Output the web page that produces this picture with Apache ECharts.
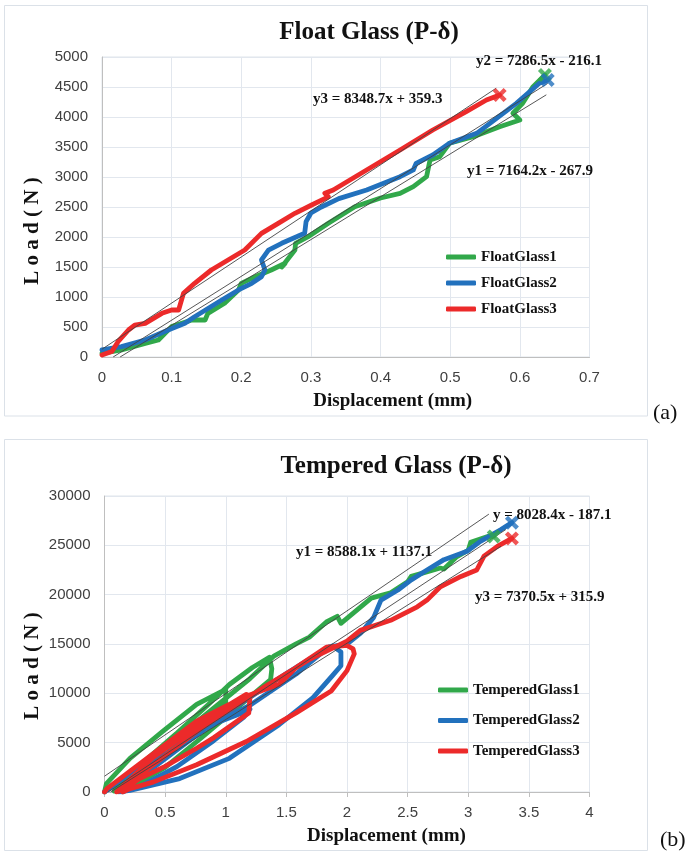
<!DOCTYPE html>
<html><head><meta charset="utf-8">
<script src="https://cdn.jsdelivr.net/npm/echarts@6/dist/echarts.min.js"></script>
<style>html,body{margin:0;padding:0;background:#fff}#c{width:691px;height:857px}</style>
</head><body><div id="c"></div>
<script>
// ---------- Float glass (a) ----------
const floatNames = ['FloatGlass1','FloatGlass2','FloatGlass3'];
const fg1X = [0,0.028,0.062,0.081,0.1,0.129,0.148,0.152,0.176,0.196,0.2,0.22,0.243,0.263,0.258,0.277,0.278,0.296,0.325,0.363,0.4,0.428,0.447,0.466,0.471,0.485,0.499,0.533,0.571,0.6,0.59,0.604,0.619,0.636];
const fg1Y = [62,117,228,283,506,617,617,728,895,1117,1228,1339,1450,1562,1500,1783,1895,2005,2228,2505,2650,2728,2840,3005,3283,3339,3562,3672,3839,3950,4062,4228,4506,4700];
const fg2X = [0,0.028,0.062,0.095,0.119,0.133,0.172,0.196,0.215,0.229,0.234,0.229,0.239,0.258,0.291,0.293,0.3,0.315,0.34,0.38,0.428,0.447,0.451,0.475,0.499,0.538,0.557,0.595,0.628,0.64];
const fg2Y = [117,172,283,450,561,672,950,1117,1228,1339,1450,1617,1783,1895,2062,2255,2400,2500,2640,2783,3005,3117,3228,3367,3562,3728,3895,4228,4562,4617];
const fg3X = [0,0.014,0.023,0.038,0.047,0.062,0.086,0.1,0.11,0.117,0.133,0.157,0.181,0.205,0.229,0.253,0.277,0.301,0.325,0.32,0.332,0.38,0.428,0.475,0.523,0.552,0.571];
const fg3Y = [33,90,255,450,533,560,728,783,783,1060,1228,1450,1617,1783,2060,2228,2395,2533,2670,2728,2783,3117,3450,3783,4089,4283,4367];
const fEndX = [0.636,0.64,0.571];
const fEndY = [4700,4617,4367];
const fTrendX = [[0.026,0.638],[0.016,0.64],[0,0.566]];
const fTrendY = [[0,4370],[0,4560],[130,4480]];
const fEqText = ['y1 = 7164.2x - 267.9','y2 = 7286.5x - 216.1','y3 = 8348.7x + 359.3'];
const fXTicks = {min:0,max:0.7,interval:0.1};
const fYTicks = {min:0,max:5000,interval:500};

// ---------- Tempered glass (b) ----------
const tempNames = ['TemperedGlass1','TemperedGlass2','TemperedGlass3'];
const tg1X = [0,0.016,0.21,0.48,0.76,1.0,1.0,0.8,0.5,0.25,0.08,0.3,0.6,0.85,1.03,1.22,1.36,1.38,1.37,1.1,0.8,0.5,0.2,0.5,0.9,1.2,1.4,1.58,1.69,1.83,1.92,1.95,2.2,2.36,2.5,2.53,2.77,2.8,2.9,3.0,3.02,3.16,3.21];
const tg1Y = [0,850,3400,6140,8870,10400,9000,6800,3800,1200,100,2800,6000,8800,10900,12620,13650,12500,11400,8600,5500,2500,300,4500,8500,11500,13800,15020,15700,17230,17800,17100,19650,20200,21300,21850,22700,22600,23800,24500,25300,25900,25900];
const tg2X = [0,0.02,0.2,0.48,0.89,1.17,1.2,1.15,0.9,0.6,0.3,0.15,0.4,0.8,1.2,1.58,1.83,1.88,1.95,1.95,1.88,1.72,1.44,1.03,0.62,0.21,0.12,0.3,0.7,1.1,1.5,1.85,2.0,2.11,2.22,2.28,2.42,2.53,2.66,2.8,2.99,3.1,3.27,3.36];
const tg2Y = [0,170,1800,4430,6830,8190,8400,7600,5200,2600,600,0,3000,6200,8800,11950,14500,14800,14200,12800,11800,9560,6820,3410,1360,170,0,1500,5200,8800,12000,14700,15000,16070,17700,19450,20470,21500,22500,23550,24400,25400,26600,27300];
const tg3X = [0,0.02,0.35,0.76,1.03,1.17,1.2,1.19,0.9,0.76,0.5,0.29,0.15,0.1,0.4,0.8,1.17,1.44,1.58,1.83,2.0,2.05,2.06,2.0,1.87,1.58,1.17,0.76,0.4,0.21,0.15,0.3,0.8,1.3,1.7,2.0,2.11,2.36,2.58,2.66,2.77,2.94,3.07,3.13,3.24,3.36];
const tg3Y = [0,340,3410,7170,8870,9900,9700,8000,5500,4430,2600,1360,200,0,3500,7000,9700,10920,12620,14670,14850,14500,14000,12300,10240,8020,5120,2760,1000,340,0,1800,6500,10500,13500,15300,16380,17400,18770,19450,20800,21850,22500,23900,24900,25700];
const tEndX = [3.21,3.36,3.36];
const tEndY = [25900,27300,25700];
const tTrendX = [[0,3.17],[0.03,3.31],[0.05,3.27]];
const tTrendY = [[1600,28160],[0,26600],[0,24900]];
const tEqText = ['y1 = 8588.1x + 1137.1','y = 8028.4x - 187.1','y3 = 7370.5x + 315.9'];
const tXTicks = {min:0,max:4,interval:0.5};
const tYTicks = {min:0,max:30000,interval:5000};

const COLORS = ['#31a84a','#2271bd','#ec2a2a'];
const zip = (xs, ys) => xs.map((x, i) => [x, ys[i]]);
const SERIF = '"Liberation Serif", "Times New Roman", serif';
const XMARK = 'path://M0,2.2 L2.2,0 L5,2.8 L7.8,0 L10,2.2 L7.2,5 L10,7.8 L7.8,10 L5,7.2 L2.2,10 L0,7.8 L2.8,5 Z';

const chart = echarts.init(document.getElementById('c'));

function axisX(idx, t, padLeft, showTick) {
  return {
    type:'value', gridIndex: idx, min:t.min, max:t.max, interval:t.interval,
    name:'Displacement (mm)', nameLocation:'middle', nameGap:35,
    nameTextStyle:{fontFamily:SERIF, fontWeight:'bold', fontSize:19, color:'#111', padding:[0,0,0,padLeft]},
    axisLine:{show:true, lineStyle:{color:'#bfbfbf', width:1}},
    axisTick:{show:showTick, length:5, lineStyle:{color:'#bfbfbf'}},
    axisLabel:{fontFamily:'"Liberation Sans", Arial, sans-serif', fontSize:15, color:'#404040', margin:13,
      formatter: v => String(Math.round(v * 10) / 10)},
    splitLine:{show:true, lineStyle:{color:'#e2e7ee', width:1}}
  };
}
function axisY(idx, t) {
  return {
    type:'value', gridIndex: idx, min:t.min, max:t.max, interval:t.interval,
    axisLine:{show:true, lineStyle:{color:'#bfbfbf', width:1}},
    axisTick:{show:false},
    axisLabel:{fontFamily:'"Liberation Sans", Arial, sans-serif', fontSize:15, color:'#404040', margin:14,
      formatter: v => String(v)},
    splitLine:{show:true, lineStyle:{color:'#e2e7ee', width:1}}
  };
}
function curve(name, xs, ys, color, gi) {
  return {
    name, type:'line', xAxisIndex:gi, yAxisIndex:gi, data: zip(xs, ys),
    showSymbol:false, smooth:false, animation:false, z:2,
    color, lineStyle:{color, width:4.8, cap:'round', join:'round'}
  };
}
function trend(xs, ys, gi) {
  return {
    type:'line', xAxisIndex:gi, yAxisIndex:gi, data: zip(xs, ys), showSymbol:false,
    animation:false, silent:true, z:3, lineStyle:{color:'#444', width:0.9}
  };
}
function ends(xs, ys, gi) {
  return {
    type:'scatter', xAxisIndex:gi, yAxisIndex:gi, symbol:XMARK, symbolSize:14, z:4, animation:false, silent:true,
    data: xs.map((x, i) => ({value:[x, ys[i]], itemStyle:{color:COLORS[i]}}))
  };
}
function txt(text, x, y, size, weight, align, rot) {
  const st = {text, fill:'#111', font: weight + ' ' + size + 'px ' + SERIF,
    align: align, verticalAlign:'middle', textAlign: align, textVerticalAlign:'middle'};
  const el = {type:'text', x, y, style: st, silent:true, z:10};
  if (rot) el.rotation = rot;
  return el;
}

const series = [
  curve(floatNames[0], fg1X, fg1Y, COLORS[0], 0),
  curve(floatNames[1], fg2X, fg2Y, COLORS[1], 0),
  curve(floatNames[2], fg3X, fg3Y, COLORS[2], 0),
  trend(fTrendX[0], fTrendY[0], 0), trend(fTrendX[1], fTrendY[1], 0), trend(fTrendX[2], fTrendY[2], 0),
  ends(fEndX, fEndY, 0),
  curve(tempNames[0], tg1X, tg1Y, COLORS[0], 1),
  curve(tempNames[1], tg2X, tg2Y, COLORS[1], 1),
  curve(tempNames[2], tg3X, tg3Y, COLORS[2], 1),
  trend(tTrendX[0], tTrendY[0], 1), trend(tTrendX[1], tTrendY[1], 1), trend(tTrendX[2], tTrendY[2], 1),
  ends(tEndX, tEndY, 1)
];

const legendText = {fontFamily:SERIF, fontWeight:'bold', fontSize:15, color:'#111', lineHeight:16};

chart.setOption({
  animation:false,
  backgroundColor:'#fff',
  grid:[
    {left:102, top:57, width:487.5, height:300, show:true, borderColor:'#dfe4eb', borderWidth:1},
    {left:104.5, top:496, width:485, height:296, show:true, borderColor:'#dfe4eb', borderWidth:1}
  ],
  xAxis:[axisX(0, fXTicks, 94, false), axisX(1, tXTicks, 79, true)],
  yAxis:[axisY(0, fYTicks), axisY(1, tYTicks)],
  legend:[
    {data:floatNames, orient:'vertical', left:441, top:244, icon:'roundRect', itemWidth:30, itemHeight:5, itemGap:10, textStyle:legendText, selectedMode:false},
    {data:tempNames, orient:'vertical', left:433, top:677, icon:'roundRect', itemWidth:30, itemHeight:5, itemGap:14.5, textStyle:legendText, selectedMode:false}
  ],
  graphic:[
    {type:'rect', shape:{x:4.5, y:5.5, width:643, height:410.5}, style:{fill:null, stroke:'#dbe1e8', lineWidth:1}, silent:true, z:0},
    {type:'rect', shape:{x:4.5, y:439.5, width:643, height:411}, style:{fill:null, stroke:'#dbe1e8', lineWidth:1}, silent:true, z:0},
    txt('Float Glass (P-δ)', 369, 33, 25, 'bold', 'center'),
    txt('Tempered Glass (P-δ)', 396, 467, 25, 'bold', 'center'),
    txt('L o a d ( N )', 33, 231, 21, 'bold', 'center', Math.PI/2),
    txt('L o a d ( N )', 33, 666, 21, 'bold', 'center', Math.PI/2),
    txt('(a)', 653, 413, 22, 'normal', 'left'),
    txt('(b)', 660, 840, 22, 'normal', 'left'),
    txt(fEqText[1], 476, 61, 15, 'bold', 'left'),
    txt(fEqText[2], 313, 99, 15, 'bold', 'left'),
    txt(fEqText[0], 467, 171, 15, 'bold', 'left'),
    txt(tEqText[1], 493, 515, 15, 'bold', 'left'),
    txt(tEqText[0], 296, 552, 15, 'bold', 'left'),
    txt(tEqText[2], 475, 597, 15, 'bold', 'left')
  ],
  series
});
</script></body></html>
